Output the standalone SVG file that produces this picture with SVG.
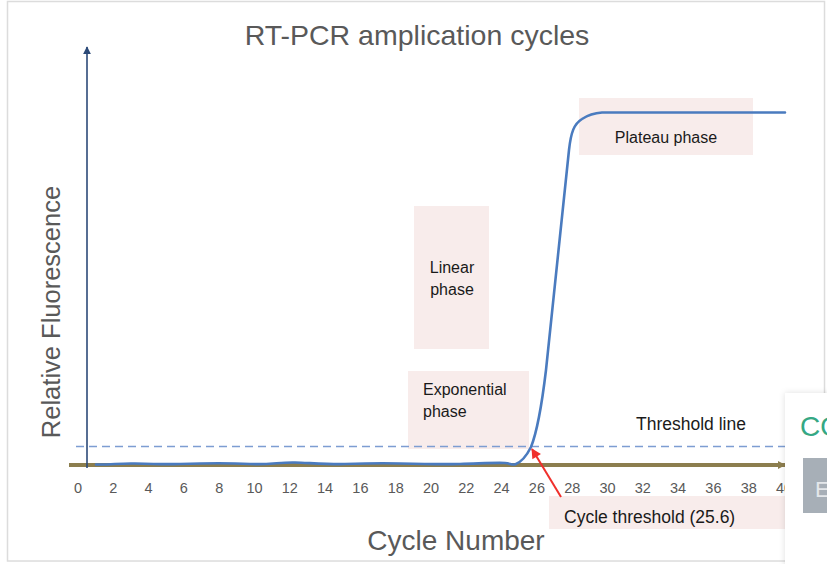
<svg xmlns="http://www.w3.org/2000/svg" width="827" height="564" viewBox="0 0 827 564">
  <style>
    .axis-title { font-family: "Liberation Sans", Arial, sans-serif; fill: #595959; }
    .tick { font-family: "Liberation Sans", Arial, sans-serif; font-size: 14.5px; fill: #595959; text-anchor: middle; }
    .label { font-family: "Liberation Sans", Arial, sans-serif; fill: #1a1a1a; }
    .phase-box { fill: #f8eceb; }
  </style>
  <defs>
    <marker id="arrow-y" viewBox="0 0 10 10" refX="9" refY="5" markerWidth="8" markerHeight="8" markerUnits="userSpaceOnUse" orient="auto">
      <path d="M0,0 L10,5 L0,10 Z" fill="#2c4a78"/>
    </marker>
    <marker id="arrow-x" viewBox="0 0 10 10" refX="9" refY="5" markerWidth="8" markerHeight="9" markerUnits="userSpaceOnUse" orient="auto">
      <path d="M0,0 L10,5 L0,10 Z" fill="#8c7e4e"/>
    </marker>
    <marker id="arrow-red" viewBox="0 0 10 10" refX="9" refY="5" markerWidth="12" markerHeight="10" markerUnits="userSpaceOnUse" orient="auto">
      <path d="M0,0 L10,5 L0,10 Z" fill="#f0302c"/>
    </marker>
    <filter id="panel-shadow" x="-50%" y="-20%" width="200%" height="140%">
      <feDropShadow dx="0" dy="0" stdDeviation="3" flood-color="#000" flood-opacity="0.12"/>
    </filter>
  </defs>

  <rect width="827" height="564" fill="#ffffff"/>
  <!-- frame -->
  <rect x="7.5" y="1.5" width="817" height="559.5" fill="none" stroke="#dcdcdc" stroke-width="1.5"/>

  <!-- title -->
  <text class="axis-title" x="417" y="45" font-size="28.5" text-anchor="middle">RT-PCR amplication cycles</text>

  <!-- phase boxes -->
  <g id="linear-phase">
    <rect class="phase-box" x="414" y="206" width="75" height="143"/>
    <text class="label" x="452" y="273" font-size="16" text-anchor="middle">Linear</text>
    <text class="label" x="452" y="295" font-size="16" text-anchor="middle">phase</text>
  </g>
  <g id="exponential-phase">
    <rect class="phase-box" x="408" y="371" width="121" height="78"/>
    <text class="label" x="423" y="395" font-size="16">Exponential</text>
    <text class="label" x="423" y="417" font-size="16">phase</text>
  </g>
  <g id="plateau-phase">
    <rect class="phase-box" x="579" y="98" width="174" height="57"/>
    <text class="label" x="666" y="143" font-size="16" text-anchor="middle">Plateau phase</text>
  </g>

  <!-- axes -->
  <g id="axes">
    <line x1="69" y1="465" x2="785" y2="465" stroke="#8c7e4e" stroke-width="4" marker-end="url(#arrow-x)"/>
    <line x1="87" y1="468" x2="87" y2="47" stroke="#2c4a78" stroke-width="1.6" marker-end="url(#arrow-y)"/>
  </g>

  <!-- threshold line -->
  <g id="threshold">
    <line x1="76" y1="446.5" x2="785" y2="446.5" stroke="#7d9dd2" stroke-width="1.5" stroke-dasharray="8 5"/>
    <text class="label" x="636" y="430" font-size="17.5">Threshold line</text>
  </g>

  <!-- tick labels -->
  <g id="ticks">
    <text class="tick" x="78" y="493">0</text>
    <text class="tick" x="113.3" y="493">2</text>
    <text class="tick" x="148.6" y="493">4</text>
    <text class="tick" x="183.9" y="493">6</text>
    <text class="tick" x="219.2" y="493">8</text>
    <text class="tick" x="254.5" y="493">10</text>
    <text class="tick" x="289.8" y="493">12</text>
    <text class="tick" x="325.1" y="493">14</text>
    <text class="tick" x="360.4" y="493">16</text>
    <text class="tick" x="395.7" y="493">18</text>
    <text class="tick" x="431" y="493">20</text>
    <text class="tick" x="466.3" y="493">22</text>
    <text class="tick" x="501.6" y="493">24</text>
    <text class="tick" x="536.9" y="493">26</text>
    <text class="tick" x="572.2" y="493">28</text>
    <text class="tick" x="607.5" y="493">30</text>
    <text class="tick" x="642.8" y="493">32</text>
    <text class="tick" x="678.1" y="493">34</text>
    <text class="tick" x="713.4" y="493">36</text>
    <text class="tick" x="748.7" y="493">38</text>
    <text class="tick" x="784" y="493">40</text>
  </g>

  <!-- amplification curve -->
  <g id="curve">
    <path d="M96,464.5 C110,465 120,463 135,463.5 S165,464.5 180,464 S230,463 250,464 S280,462 295,462.5 S330,464.5 345,464 S380,463 400,463.5 S440,464.5 460,464 S495,462.5 505,463 C510,463.5 512,465 515,464.5 C522,462 527,455 531,447 C537,432 541,412 546,370 L569,150 C571,132 574,124 582,119 C588,115 594,113 602,112.5 L785,112.5" fill="none" stroke="#4a7bbf" stroke-width="2.6" stroke-linejoin="round" stroke-linecap="round"/>
  </g>

  <!-- axis titles -->
  <text class="axis-title" x="456" y="550" font-size="28" text-anchor="middle">Cycle Number</text>
  <text class="axis-title" transform="translate(60,312) rotate(-90)" font-size="25.5" text-anchor="middle">Relative Fluorescence</text>

  <!-- cycle threshold callout -->
  <g id="cycle-threshold">
    <rect class="phase-box" x="549" y="496" width="236" height="33"/>
    <text class="label" x="564" y="523" font-size="17.5">Cycle threshold (25.6)</text>
  </g>
  <g id="connectors">
    <line x1="561" y1="497" x2="532" y2="449" stroke="#f0302c" stroke-width="2" marker-end="url(#arrow-red)"/>
  </g>

  <!-- side panel overlapping the chart edge -->
  <g id="side-panel">
    <rect x="785" y="393" width="60" height="180" fill="#ffffff" filter="url(#panel-shadow)"/>
    <rect x="785" y="393" width="60" height="180" fill="#ffffff"/>
    <text x="800" y="436" font-family="Liberation Sans, Arial, sans-serif" font-size="28" fill="#35a884">CO</text>
    <rect x="803" y="458" width="30" height="55" fill="#a7afb7"/>
    <text x="815" y="497" font-family="Liberation Sans, Arial, sans-serif" font-size="22" fill="#e4e7ea">E</text>
  </g>
</svg>
